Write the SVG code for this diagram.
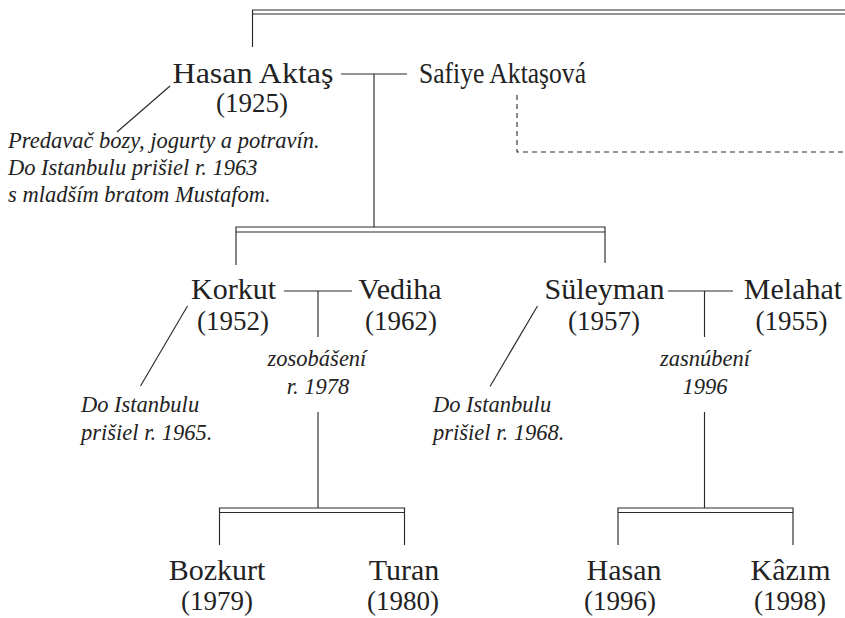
<svg xmlns="http://www.w3.org/2000/svg" width="845" height="618" viewBox="0 0 845 618">
<style>
  .ln { stroke: #2a2a2a; stroke-width: 1.15; fill: none; }
  .dash { stroke: #2a2a2a; stroke-width: 1.1; fill: none; stroke-dasharray: 5 4; }
  text { font-family: 'Liberation Serif', 'Times New Roman', Times, 'DejaVu Serif', 'Noto Serif', serif; fill: #222; }
  .nm { font-size: 30px; text-anchor: middle; }
  .yr { font-size: 27px; text-anchor: middle; }
  .nt { font-size: 22.5px; font-style: italic; }
  .c { text-anchor: middle; }
</style>
<rect width="845" height="618" fill="#fff"/>
<g id="connectors">
  <path class="ln" d="M252.5 47 V10 H845 M252.5 14 H845"/>
  <path class="dash" d="M517 95 V152 H845"/>
  <path class="ln" d="M341 74 H407 M374 74 V227"/>
  <path class="ln" d="M236 265 V227 H605 V263 M236 232 H605"/>
  <path class="ln" d="M170 86 L117 132"/>
  <path class="ln" d="M284 291 H352 M318 291 V337 M318 412 V508"/>
  <path class="ln" d="M219.5 545 V508 H404.5 V545 M219.5 512.5 H404.5"/>
  <path class="ln" d="M187.5 306 L140.5 386"/>
  <path class="ln" d="M668 291 H733 M704.5 291 V337 M704.5 412 V508"/>
  <path class="ln" d="M618 545 V508 H793 V545 M618 512.5 H793"/>
  <path class="ln" d="M537.5 306 L490 386.5"/>
</g>
<g id="hasan-aktas">
  <text class="nm" x="253" y="83" textLength="161" lengthAdjust="spacingAndGlyphs">Hasan Aktaş</text>
  <text class="yr" x="252" y="112">(1925)</text>
</g>
<g id="safiye">
  <text class="nm" x="502.5" y="83" textLength="167" lengthAdjust="spacingAndGlyphs">Safiye Aktaşová</text>
</g>
<g id="note-hasan">
  <text class="nt" x="8" y="148">Predavač bozy, jogurty a potravín.</text>
  <text class="nt" x="8" y="175">Do Istanbulu prišiel r. 1963</text>
  <text class="nt" x="8" y="202">s mladším bratom Mustafom.</text>
</g>
<g id="korkut">
  <text class="nm" x="233.5" y="299">Korkut</text>
  <text class="yr" x="233" y="330">(1952)</text>
</g>
<g id="vediha">
  <text class="nm" x="400" y="299">Vediha</text>
  <text class="yr" x="401" y="330">(1962)</text>
</g>
<g id="note-korkut">
  <text class="nt" x="81" y="412">Do Istanbulu</text>
  <text class="nt" x="81" y="440">prišiel r. 1965.</text>
</g>
<g id="marriage-korkut">
  <text class="nt c" x="317" y="366">zosobášení</text>
  <text class="nt c" x="318" y="394">r. 1978</text>
</g>
<g id="suleyman">
  <text class="nm" x="604.5" y="299">Süleyman</text>
  <text class="yr" x="604" y="330">(1957)</text>
</g>
<g id="melahat">
  <text class="nm" x="793" y="299">Melahat</text>
  <text class="yr" x="791.5" y="330">(1955)</text>
</g>
<g id="note-suleyman">
  <text class="nt" x="433" y="412">Do Istanbulu</text>
  <text class="nt" x="433" y="440">prišiel r. 1968.</text>
</g>
<g id="engagement-suleyman">
  <text class="nt c" x="705" y="366">zasnúbení</text>
  <text class="nt c" x="705" y="394">1996</text>
</g>
<g id="bozkurt">
  <text class="nm" x="217" y="580">Bozkurt</text>
  <text class="yr" x="217" y="610">(1979)</text>
</g>
<g id="turan">
  <text class="nm" x="404" y="580">Turan</text>
  <text class="yr" x="403" y="610">(1980)</text>
</g>
<g id="hasan">
  <text class="nm" x="624" y="580">Hasan</text>
  <text class="yr" x="620" y="610">(1996)</text>
</g>
<g id="kazim">
  <text class="nm" x="790.5" y="580">Kâzım</text>
  <text class="yr" x="790" y="610">(1998)</text>
</g>
</svg>
